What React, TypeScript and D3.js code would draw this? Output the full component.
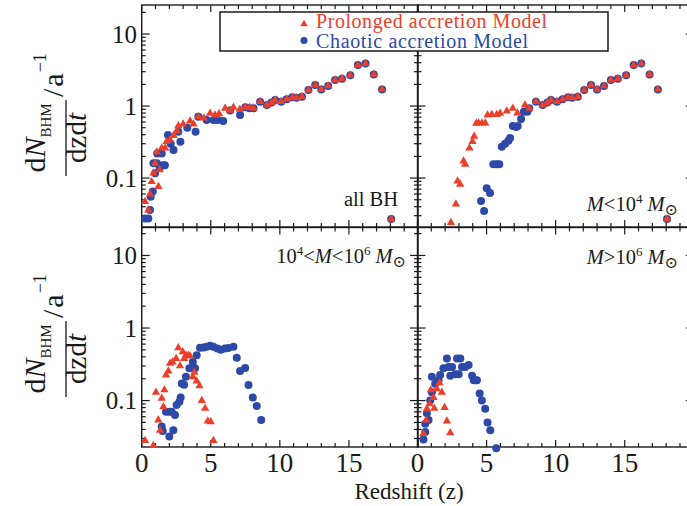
import React from 'react';
import * as d3 from 'd3';

const RED = '#ea3f2a';
const BLUE = '#2c49a8';
const INK = '#1a1a1a';
const FONT = "'Liberation Serif', 'DejaVu Serif', 'Times New Roman', serif";

type Pt = [number, number];

// shared high-redshift tail (both models identical, all BH and M<1e4)
const highZTail: Pt[] = [
  [8.09, 0.93], [8.57, 1.15], [9.06, 1.03], [9.4, 1.12], [9.66, 1.21], [10.1, 1.15],
  [10.5, 1.24], [10.9, 1.32], [11.2, 1.3], [11.6, 1.35], [12.07, 1.67], [12.56, 1.96],
  [13.0, 1.7], [13.5, 1.9], [14.0, 2.3], [14.5, 2.4], [15.1, 2.67], [15.65, 3.7],
  [16.2, 3.9], [16.8, 2.75], [17.4, 1.7], [18.06, 0.027],
];

const allProlonged: Pt[] = [
  [0.24, 0.047], [0.48, 0.036], [0.6, 0.06], [0.72, 0.089], [0.85, 0.117], [0.97, 0.16],
  [1.1, 0.23], [1.21, 0.076], [1.3, 0.13], [1.45, 0.26], [1.7, 0.26], [1.8, 0.32],
  [2.05, 0.34], [2.3, 0.39], [2.55, 0.45], [2.65, 0.53], [3.0, 0.56], [3.5, 0.62],
  [3.75, 0.56], [4.1, 0.71], [4.5, 0.68], [4.95, 0.79], [5.3, 0.75], [5.6, 0.78],
  [6.04, 0.93], [6.4, 0.87], [6.64, 0.96], [7.1, 0.9], [7.49, 0.96], [7.8, 0.95],
];
const allChaotic: Pt[] = [
  [0.24, 0.0275], [0.48, 0.0275], [0.6, 0.036], [0.65, 0.055], [0.8, 0.065], [0.85, 0.16],
  [0.97, 0.117], [1.1, 0.16], [1.12, 0.22], [1.3, 0.14], [1.45, 0.22], [1.55, 0.15],
  [1.68, 0.15], [1.9, 0.395], [2.1, 0.3], [2.3, 0.245], [2.65, 0.44], [2.8, 0.32],
  [3.3, 0.5], [3.9, 0.44], [4.1, 0.71], [4.7, 0.64], [5.2, 0.64], [5.5, 0.64],
  [5.9, 0.62], [6.4, 0.87], [7.12, 0.75], [7.5, 0.96], [7.8, 0.93],
];

const lowProlonged: Pt[] = [
  [2.42, 0.024], [2.78, 0.0435], [2.9, 0.091], [3.09, 0.082], [3.33, 0.172], [3.45, 0.155],
  [3.76, 0.26], [3.98, 0.32], [4.1, 0.38], [4.25, 0.575], [4.42, 0.58], [4.66, 0.58],
  [4.9, 0.58], [5.07, 0.75], [5.38, 0.76], [5.74, 0.76], [5.98, 0.79], [6.46, 0.85],
  [6.9, 0.93], [7.23, 0.8], [7.78, 1.03],
];
const lowChaotic: Pt[] = [
  [4.6, 0.048], [4.82, 0.035], [5.01, 0.072], [5.25, 0.062], [5.49, 0.155], [5.73, 0.155],
  [5.92, 0.155], [6.1, 0.272], [6.34, 0.3], [6.58, 0.33], [6.7, 0.36], [6.9, 0.53],
  [7.14, 0.51], [7.25, 0.53], [7.5, 0.66], [7.7, 0.83], [7.95, 0.83],
];

const midProlonged: Pt[] = [
  [0.24, 0.028], [0.84, 0.024], [1.03, 0.13], [1.2, 0.054], [1.33, 0.039], [1.45, 0.107],
  [1.57, 0.082], [1.64, 0.14], [1.76, 0.225], [1.93, 0.255], [2.05, 0.326], [2.24, 0.34],
  [2.49, 0.38], [2.65, 0.535], [2.77, 0.3], [2.97, 0.47], [3.07, 0.38], [3.2, 0.42],
  [3.38, 0.42], [3.5, 0.41], [3.7, 0.213], [3.81, 0.245], [3.98, 0.186], [4.18, 0.16],
  [4.35, 0.1], [4.59, 0.078], [4.78, 0.052], [5.0, 0.051], [5.19, 0.028],
];
const midChaotic: Pt[] = [
  [1.45, 0.044], [1.52, 0.038], [1.76, 0.07], [2.0, 0.07], [2.17, 0.07], [2.0, 0.032],
  [2.29, 0.039], [2.41, 0.063], [2.53, 0.087], [2.73, 0.096], [2.82, 0.11], [2.9, 0.172],
  [3.07, 0.165], [3.2, 0.213], [3.45, 0.278], [3.7, 0.34], [3.86, 0.278], [3.98, 0.42],
  [4.22, 0.535], [4.47, 0.54], [4.71, 0.55], [4.95, 0.57], [5.19, 0.55], [5.48, 0.52],
  [5.72, 0.5], [6.03, 0.52], [6.27, 0.53], [6.64, 0.55], [6.88, 0.39], [7.12, 0.255],
  [7.49, 0.28], [7.73, 0.164], [8.04, 0.11], [8.33, 0.084], [8.65, 0.054],
];

const highProlonged: Pt[] = [
  [0.43, 0.035], [0.63, 0.054], [0.68, 0.077], [0.87, 0.09], [0.97, 0.14], [1.16, 0.11],
  [1.21, 0.078], [1.4, 0.145], [1.6, 0.176], [1.76, 0.13], [1.96, 0.08], [2.13, 0.052],
  [2.37, 0.036],
];
const highChaotic: Pt[] = [
  [0.43, 0.029], [0.56, 0.037], [0.56, 0.048], [0.8, 0.054], [0.68, 0.067], [0.92, 0.1],
  [1.04, 0.13], [1.04, 0.213], [1.28, 0.17], [1.52, 0.19], [1.64, 0.225], [1.88, 0.278],
  [2.13, 0.38], [2.25, 0.29], [2.5, 0.29], [2.37, 0.22], [2.74, 0.23], [2.98, 0.23],
  [2.86, 0.38], [3.1, 0.38], [3.22, 0.29], [3.46, 0.29], [3.7, 0.31], [3.95, 0.22],
  [4.07, 0.19], [4.2, 0.19], [4.3, 0.19], [4.5, 0.125], [4.66, 0.1], [4.9, 0.077],
  [5.07, 0.05], [5.27, 0.039], [5.7, 0.022],
];

const xTickLabels = ['0', '5', '10', '15'];
const yTickLabels = ['0.1', '1', '10'];
const legendLabels = ['Prolonged accretion Model', 'Chaotic accretion Model'];

const ZMAX = 20;
const LEFT = [141.7, 418];
const RIGHT = [417.5, 693.8];

interface PanelProps {
  xr: number[];
  yr: number[];
  yDom: number[];
  red: Pt[];
  blue: Pt[];
  yLabels: boolean;
  xLabels: boolean;
}

function Panel({ xr, yr, yDom, red, blue, yLabels, xLabels }: PanelProps) {
  const x = d3.scaleLinear().domain([0, ZMAX]).range(xr);
  const y = d3.scaleLog().domain(yDom).range(yr);
  const [x0, x1] = xr;
  const [yb, yt] = yr;
  const xt = d3.range(0, ZMAX + 1);
  const yt2 = y.ticks();
  const tri = d3.symbol(d3.symbolTriangle, 30)() as string;
  const isMajor = (v: number) => Math.abs(Math.log10(v) - Math.round(Math.log10(v))) < 1e-6;
  return (
    <g>
      <rect x={x0} y={yt} width={x1 - x0} height={yb - yt} fill="none" stroke={INK} strokeWidth={1.4} />
      {xt.map((t) => {
        const L = t % 5 === 0 ? 7 : 4;
        return (
          <g key={'x' + t} stroke={INK} strokeWidth={1.2}>
            <line x1={x(t)} x2={x(t)} y1={yt} y2={yt + L} />
            <line x1={x(t)} x2={x(t)} y1={yb} y2={yb - L} />
          </g>
        );
      })}
      {yt2.map((v, i) => {
        const L = isMajor(v) ? 8 : 4;
        return (
          <g key={'y' + i} stroke={INK} strokeWidth={1.2}>
            <line x1={x0} x2={x0 + L} y1={y(v)} y2={y(v)} />
            <line x1={x1} x2={x1 - L} y1={y(v)} y2={y(v)} />
          </g>
        );
      })}
      {xLabels &&
        xTickLabels.map((s) => (
          <text key={'xl' + s} x={x(+s)} y={472} textAnchor="middle" fontSize={27} fill={INK}>
            {s}
          </text>
        ))}
      {yLabels &&
        yTickLabels.map((s) => (
          <text key={'yl' + s} x={137} y={y(+s)} dy="0.35em" textAnchor="end" fontSize={25} fill={INK}>
            {s}
          </text>
        ))}
      {blue.map((p, i) => (
        <circle key={'b' + i} cx={x(p[0])} cy={y(p[1])} r={4} fill={BLUE} />
      ))}
      {red.map((p, i) => (
        <path key={'r' + i} d={tri} transform={`translate(${x(p[0])},${y(p[1])})`} fill={RED} />
      ))}
    </g>
  );
}

function YLabel({ cy }: { cy: number }) {
  return (
    <g transform={`translate(66,${cy}) rotate(-90)`} fill={INK}>
      <text x={-26} y={-21} textAnchor="middle" fontSize={30}>
        d<tspan fontStyle="italic">N</tspan>
        <tspan fontSize={15} dy={6}>BHM</tspan>
      </text>
      <line x1={-64} x2={12} y1={0} y2={0} stroke={INK} strokeWidth={1.3} />
      <text x={-26} y={20} textAnchor="middle" fontSize={29}>
        dzd<tspan fontStyle="italic">t</tspan>
      </text>
      <text x={15} y={-3} fontSize={30}>
        /<tspan dx={2}>a</tspan>
        <tspan fontSize={18} dx={1} dy={-17}>−1</tspan>
      </text>
    </g>
  );
}

function MassLabel({ x, y, parts }: { x: number; y: number; parts: React.ReactNode }) {
  return (
    <text x={x} y={y} textAnchor="end" fontSize={20.5} fill={INK}>
      {parts}
    </text>
  );
}

export default function App() {
  const topY = [227, 5];
  const botY = [447, 227.5];
  const topDom = [0.0209, 25.3];
  const botDom = [0.0229, 24.3];
  const tri = d3.symbol(d3.symbolTriangle, 24)() as string;
  return (
    <svg width={687} height={506} style={{ position: 'absolute', left: 0, top: 0, background: '#fff', fontFamily: FONT }}>
      <rect width={687} height={506} fill="#fff" />
      <Panel xr={LEFT} yr={topY} yDom={topDom} red={[...allProlonged, ...highZTail]} blue={[...allChaotic, ...highZTail]} yLabels xLabels={false} />
      <Panel xr={RIGHT} yr={topY} yDom={topDom} red={[...lowProlonged, ...highZTail]} blue={[...lowChaotic, ...highZTail]} yLabels={false} xLabels={false} />
      <Panel xr={LEFT} yr={botY} yDom={botDom} red={midProlonged} blue={midChaotic} yLabels xLabels />
      <Panel xr={RIGHT} yr={botY} yDom={botDom} red={highProlonged} blue={highChaotic} yLabels={false} xLabels />

      <MassLabel x={398} y={206} parts={<>all BH</>} />
      <MassLabel
        x={678}
        y={211}
        parts={
          <>
            <tspan fontStyle="italic">M</tspan>&lt;10<tspan fontSize={13} dy={-8}>4</tspan>
            <tspan dy={8}> </tspan>
            <tspan fontStyle="italic">M</tspan>
            <tspan fontSize={16} dy={4}>⊙</tspan>
          </>
        }
      />
      <MassLabel
        x={406}
        y={263}
        parts={
          <>
            10<tspan fontSize={13} dy={-8}>4</tspan>
            <tspan dy={8}>&lt;</tspan>
            <tspan fontStyle="italic">M</tspan>&lt;10<tspan fontSize={13} dy={-8}>6</tspan>
            <tspan dy={8}> </tspan>
            <tspan fontStyle="italic">M</tspan>
            <tspan fontSize={16} dy={4}>⊙</tspan>
          </>
        }
      />
      <MassLabel
        x={678}
        y={264}
        parts={
          <>
            <tspan fontStyle="italic">M</tspan>&gt;10<tspan fontSize={13} dy={-8}>6</tspan>
            <tspan dy={8}> </tspan>
            <tspan fontStyle="italic">M</tspan>
            <tspan fontSize={16} dy={4}>⊙</tspan>
          </>
        }
      />

      <g>
        <rect x={220} y={12} width={388} height={39} fill="#fff" stroke={INK} strokeWidth={1.5} />
        <path d={tri} transform="translate(304,24)" fill={RED} />
        <circle cx={304} cy={40.5} r={3.5} fill={BLUE} />
        <text x={316} y={27.5} fontSize={20} fill={RED} textLength={231} lengthAdjust="spacing">{legendLabels[0]}</text>
        <text x={316} y={47.5} fontSize={20} fill={BLUE} textLength={212} lengthAdjust="spacing">{legendLabels[1]}</text>
      </g>

      <YLabel cy={112} />
      <YLabel cy={333} />

      <text x={409} y={499} textAnchor="middle" fontSize={23} fill={INK}>
        Redshift (z)
      </text>
    </svg>
  );
}
